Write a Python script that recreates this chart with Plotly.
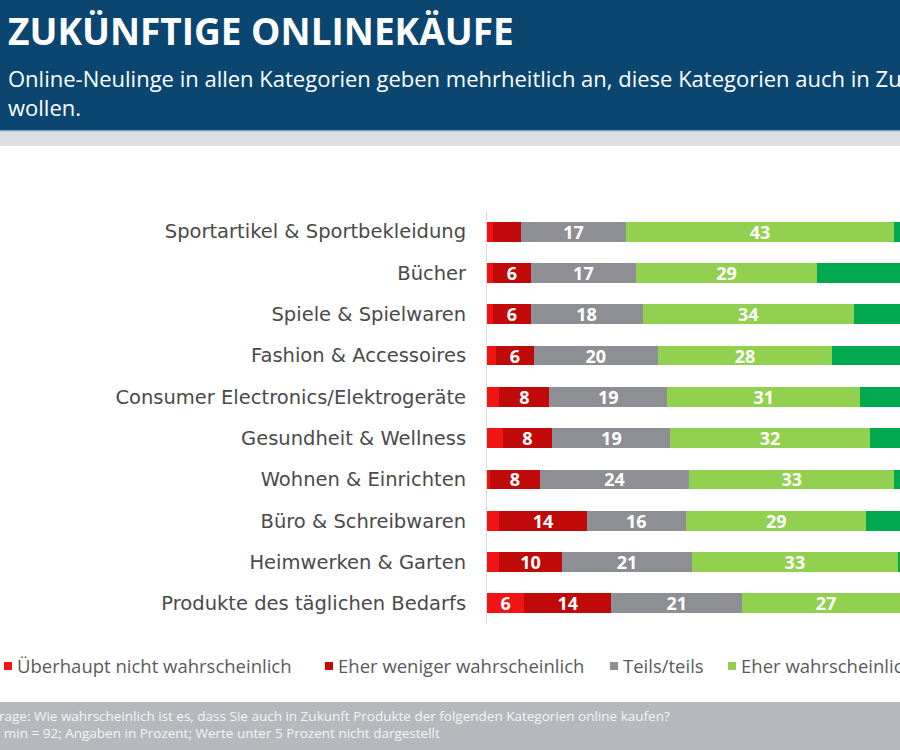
import plotly.graph_objects as go

# ---------------- data ----------------
categories = [
    "Sportartikel & Sportbekleidung",
    "Bücher",
    "Spiele & Spielwaren",
    "Fashion & Accessoires",
    "Consumer Electronics/Elektrogeräte",
    "Gesundheit & Wellness",
    "Wohnen & Einrichten",
    "Büro & Schreibwaren",
    "Heimwerken & Garten",
    "Produkte des täglichen Bedarfs",
]
series_names = [
    "Überhaupt nicht wahrscheinlich",
    "Eher weniger wahrscheinlich",
    "Teils/teils",
    "Eher wahrscheinlich",
    "Sehr wahrscheinlich",
]
ueberhaupt_nicht = [1, 1, 1, 1.5, 2, 2.5, 0.5, 2, 2, 6]
eher_weniger = [4.4, 6, 6, 6, 8, 8, 8, 14, 10, 14]
teils_teils = [17, 17, 18, 20, 19, 19, 24, 16, 21, 21]
eher_wahrscheinlich = [43, 29, 34, 28, 31, 32, 33, 29, 33, 27]
sehr_wahrscheinlich = [34, 47, 41, 44, 40, 38, 34, 39, 34, 32]

series_values = [ueberhaupt_nicht, eher_weniger, teils_teils,
                 eher_wahrscheinlich, sehr_wahrscheinlich]
colors = ["#f01414", "#c00a0a", "#8e8f94", "#92d050", "#00a94f"]

title = "ZUKÜNFTIGE ONLINEKÄUFE"
subtitle = ("Online-Neulinge in allen Kategorien geben mehrheitlich an, diese "
            "Kategorien auch in Zukunft online kaufen zu<br>wollen.")
footer_1 = ("Frage: Wie wahrscheinlich ist es, dass Sie auch in Zukunft Produkte "
            "der folgenden Kategorien online kaufen?")
footer_2 = "n min = 92; Angaben in Prozent; Werte unter 5 Prozent nicht dargestellt"

# ---------------- layout geometry ----------------
W, H = 900, 750
ML, MR, MT, MB = 487, 0, 211, 126
PW = W - ML - MR
PH = H - MT - MB


def px(x):
    return (x - ML) / PW


def py(y):
    return (H - MB - y) / PH


fig = go.Figure()
for name, vals, col in zip(series_names, series_values, colors):
    fig.add_trace(go.Bar(
        y=categories, x=vals, name=name, orientation="h",
        marker=dict(color=col, line=dict(width=0)),
        text=[f"{v:.0f}" if v >= 5 else "" for v in vals],
        textposition="inside", insidetextanchor="middle", textangle=0,
        constraintext="none",
        textfont=dict(family="Open Sans", size=18, color="white", weight=700),
        hoverinfo="skip", showlegend=False,
    ))

shapes = [
    # header band
    dict(type="rect", xref="paper", yref="paper", x0=px(0), x1=px(W),
         y0=py(131), y1=py(0), fillcolor="#0a4670", line=dict(width=0), layer="below"),
    dict(type="rect", xref="paper", yref="paper", x0=px(0), x1=px(W),
         y0=py(146), y1=py(131), fillcolor="#dcdfe2", line=dict(width=0), layer="below"),
    dict(type="line", xref="paper", yref="paper", x0=px(0), x1=px(W),
         y0=py(131), y1=py(131), line=dict(color="#a8c2d8", width=1.5)),
    # footer band
    dict(type="rect", xref="paper", yref="paper", x0=px(0), x1=px(W),
         y0=py(H), y1=py(702), fillcolor="#b5b9bd", line=dict(width=0), layer="below"),
]

annotations = [
    dict(text=title, xref="paper", yref="paper", x=px(6), y=py(31),
         xanchor="left", yanchor="middle", showarrow=False,
         font=dict(family="Open Sans", size=37, color="white", weight=700)),
    dict(text=subtitle, xref="paper", yref="paper", x=px(6), y=py(93),
         xanchor="left", yanchor="middle", align="left", showarrow=False,
         font=dict(family="Open Sans", size=22, color="white")),
    dict(text=footer_1, xref="paper", yref="paper", x=px(-10), y=py(716),
         xanchor="left", yanchor="middle", showarrow=False,
         font=dict(family="Open Sans", size=13.5, color="#f4f5f6")),
    dict(text=footer_2, xref="paper", yref="paper", x=px(-10), y=py(733),
         xanchor="left", yanchor="middle", showarrow=False,
         font=dict(family="Open Sans", size=13.5, color="#f4f5f6")),
]

# legend (drawn manually so that it runs off the right edge like the original)
legend_x = [4, 325, 610, 728, 1060]
for name, col, lx in zip(series_names, colors, legend_x):
    shapes.append(dict(type="rect", xref="paper", yref="paper",
                       x0=px(lx), x1=px(lx + 8), y0=py(670), y1=py(662),
                       fillcolor=col, line=dict(width=0)))
    annotations.append(dict(text=name, xref="paper", yref="paper",
                            x=px(lx + 11), y=py(665), xanchor="left", yanchor="middle",
                            showarrow=False,
                            font=dict(family="Open Sans", size=18.5, color="#5a5a5a")))

fig.update_layout(
    width=W, height=H,
    margin=dict(l=ML, r=MR, t=MT, b=MB, pad=0),
    paper_bgcolor="white", plot_bgcolor="white",
    barmode="stack", bargap=0.52,
    shapes=shapes, annotations=annotations,
    xaxis=dict(range=[0, 66.4], visible=False, fixedrange=True),
    yaxis=dict(autorange="reversed", showline=True, linecolor="#dcdcdc", linewidth=1,
               showgrid=False, ticks="", ticklabelstandoff=16,
               tickfont=dict(family="DejaVu Sans", size=19.5, color="#4a4a4a")),
)

fig.write_html(
    "out.html",
    config={"displayModeBar": False},
    post_script="document.body.style.margin='0';document.body.style.overflow='hidden';",
)
